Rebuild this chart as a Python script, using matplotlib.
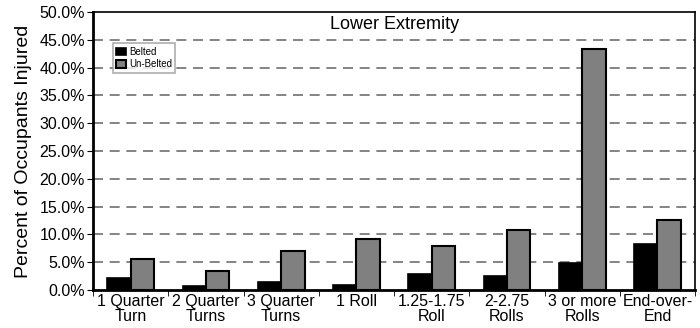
import numpy as np
import matplotlib.pyplot as plt
from matplotlib.ticker import FuncFormatter, FixedLocator

plt.rcParams['font.family'] = ['Liberation Sans', 'DejaVu Sans']

# data (percent)
categories = ['1 Quarter\nTurn', '2 Quarter\nTurns', '3 Quarter\nTurns', '1 Roll',
              '1.25-1.75\nRoll', '2-2.75\nRolls', '3 or more\nRolls', 'End-over-\nEnd']
belted = [2.1, 0.8, 1.4, 0.9, 2.9, 2.6, 4.9, 8.3]
unbelted = [5.6, 3.5, 7.0, 9.2, 8.0, 10.8, 43.3, 12.5]

fig = plt.figure(figsize=(7, 3.28), dpi=100)
ax = fig.add_axes([0.133, 0.116, 0.860, 0.847])

x = np.arange(len(categories))
w = 0.31
ax.bar(x - w / 2, belted, w, color='black', edgecolor='black', linewidth=1.2,
       label='Belted', zorder=3)
ax.bar(x + w / 2, unbelted, w, color='#808080', edgecolor='black', linewidth=1.5,
       label='Un-Belted', zorder=3)

ax.set_xlim(-0.5, len(categories) - 0.5)
ax.set_ylim(0, 50)
ax.set_yticks(np.arange(0, 51, 5))
ax.yaxis.set_major_formatter(FuncFormatter(lambda v, p: f'{v:.1f}%'))
for yv in np.arange(5, 50, 5):
    ax.axhline(yv, color='#707070', linestyle=(0, (6, 4)), linewidth=1.2, zorder=1)

ax.set_xticks(x)
ax.set_xticklabels(categories, fontsize=11.5, linespacing=0.95)
ax.tick_params(axis='x', length=0, pad=3)
ax.xaxis.set_minor_locator(FixedLocator(np.arange(-0.5, len(categories), 1)))
ax.tick_params(axis='x', which='minor', length=4, direction='out')
ax.tick_params(axis='y', labelsize=11.5, length=4, pad=2)

for side in ['left', 'bottom']:
    ax.spines[side].set_linewidth(2)
for side in ['top', 'right']:
    ax.spines[side].set_linewidth(1.2)

ax.set_ylabel('Percent of Occupants Injured', fontsize=14, labelpad=5)
ax.text(0.5, 0.985, 'Lower Extremity', transform=ax.transAxes, ha='center', va='top',
        fontsize=13)

leg = ax.legend(loc='upper left', bbox_to_anchor=(0.025, 0.905), fontsize=7,
                frameon=True, fancybox=False, handlelength=1.0, handleheight=0.8,
                borderpad=0.35, labelspacing=0.25, handletextpad=0.3)
leg.get_frame().set_edgecolor('#999999')
leg.get_frame().set_linewidth(1.2)

fig.savefig('out.png', dpi=100)
